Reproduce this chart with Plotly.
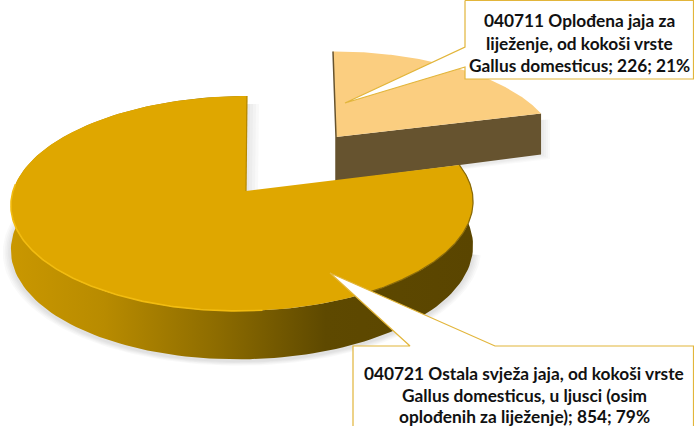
import numpy as np
import plotly.graph_objects as go

categories = ["040711", "040721"]
values = [226, 854]
label_lines = [
    ["040711 Oplođena jaja za", "liježenje, od kokoši vrste", "Gallus domesticus"],
    ["040721 Ostala svježa jaja, od kokoši vrste", "Gallus domesticus, u ljusci (osim", "oplođenih za liježenje)"],
]

TOP_COLOR = ["#FBCE80", "#DFA700"]
SMALL_WALL = "#66532F"
WALL_SCALE = [[0, "#C99700"], [0.2, "#B88B00"], [0.45, "#8C6B00"], [0.68, "#5E4900"], [1, "#5A4500"]]
EDGE = "#E2B53A"
K = 0.116

total = sum(values)
ends = np.cumsum(values) / total * 2 * np.pi
starts = np.concatenate([[0], ends[:-1]])


def arc(t0, t1, cx, cy, rx, ry, skew, drop=0.0, grow=1.0, n=160):
    t = np.linspace(t0, t1, n)
    w = 1 + K * np.cos(t)
    x = cx + grow * rx * np.sin(t) / w + skew * np.cos(t)
    y = cy - grow * ry * np.cos(t) / w + drop * (1 - 0.1 * np.cos(t))
    return x, y


fig = go.Figure()


def poly(x, y, fill, line=None, width=0, **kw):
    fig.add_trace(go.Scatter(x=x, y=y, mode="lines", fill="toself", fillcolor=fill,
                             line=dict(color=line or "rgba(0,0,0,0)", width=width),
                             hoverinfo="skip", showlegend=False, **kw))


BIG = dict(cx=242.5, cy=191, rx=229.5, ry=106, skew=4.5)
SMALL = dict(cx=336, cy=137, rx=219, ry=95.5, skew=-3)
APEX_BIG = (246, 191)
APEX_SMALL = (336, 137)
DROP = 44

# soft shadows
for g in [1.035, 1.027, 1.02, 1.013, 1.006]:
    x, y = arc(np.pi * 0.55, np.pi * 1.6, drop=DROP + 2, grow=g, **BIG)
    poly(x, y, "rgba(90,90,90,0.035)")
for dx in [9, 7, 5, 3]:
    xa, ya = arc(ends[0], ends[0], drop=42, n=1, **SMALL)
    poly([APEX_SMALL[0], xa[0] + dx, xa[0] + dx, APEX_SMALL[0]],
         [APEX_SMALL[1] + 48, ya[0] + dx / 2, ya[0] - 35, APEX_SMALL[1]], "rgba(90,90,90,0.03)")
for dx in [12, 9, 6, 3]:
    xa, ya = arc(0, 0, n=1, **BIG)
    poly([xa[0], xa[0] + dx, APEX_BIG[0] + dx, APEX_BIG[0]],
         [ya[0] + 8, ya[0] + 8, APEX_BIG[1], APEX_BIG[1]], "rgba(90,90,90,0.04)")

# small slice: wall then top face
xa, ya = arc(ends[0], ends[0], n=1, **SMALL)
xd, yd = arc(ends[0], ends[0], drop=42, n=1, **SMALL)
poly([APEX_SMALL[0], xa[0], xd[0], APEX_SMALL[0]],
     [APEX_SMALL[1], ya[0], yd[0], APEX_SMALL[1] + 44], SMALL_WALL)
x, y = arc(starts[0], ends[0], **SMALL)
poly(np.r_[APEX_SMALL[0], x], np.r_[APEX_SMALL[1], y], TOP_COLOR[0])
fig.add_trace(go.Scatter(x=[x[0], APEX_SMALL[0], APEX_SMALL[0]],
                         y=[y[0], APEX_SMALL[1], APEX_SMALL[1] + 44], mode="lines",
                         line=dict(color=SMALL_WALL, width=1.5), hoverinfo="skip", showlegend=False))

# big slice: outer wall with a horizontal gradient, then top face
xt, yt = arc(starts[1], ends[1], **BIG)
xb, yb = arc(starts[1], ends[1], drop=DROP, **BIG)
fig.add_trace(go.Scatter(x=np.r_[xt, xb[::-1]], y=np.r_[yt, yb[::-1]], mode="lines", fill="toself",
                         fillgradient=dict(type="horizontal", colorscale=WALL_SCALE,
                                           start=12, stop=473),
                         line=dict(color="rgba(0,0,0,0)", width=0),
                         hoverinfo="skip", showlegend=False))
poly(np.r_[APEX_BIG[0], xt, APEX_BIG[0]], np.r_[APEX_BIG[1], yt, APEX_BIG[1]], TOP_COLOR[1])
# bevel highlight on the front rim and darker cut edge
xr, yr = arc(np.pi * 0.97, np.pi * 1.52, **BIG)
fig.add_trace(go.Scatter(x=xr, y=yr, mode="lines", line=dict(color="#F2BC10", width=1.6),
                         hoverinfo="skip", showlegend=False))
xr, yr = arc(ends[0], np.pi * 0.85, **BIG)
fig.add_trace(go.Scatter(x=xr, y=yr, mode="lines", line=dict(color="#8A6A08", width=1.2),
                         hoverinfo="skip", showlegend=False))
fig.add_trace(go.Scatter(x=[xt[-1], APEX_BIG[0]], y=[yt[-1], APEX_BIG[1]], mode="lines",
                         line=dict(color="#B48800", width=1.2), hoverinfo="skip", showlegend=False))

# callouts
poly([465, 465, 345, 465, 465, 693.5, 693.5, 465],
     [0.5, 47, 103, 67, 79, 79, 0.5, 0.5], "#FFFFFF", EDGE, 1.2)
poly([353, 353, 410, 330, 495, 693.5, 693.5, 353],
     [440, 346, 346, 273, 346, 346, 440, 440], "#FFFFFF", EDGE, 1.2)

centres = [(579, [20, 43, 65.5]), (524, [373.5, 395, 416])]
pcts = [round(v / total * 100) for v in values]
for i, (xc, ys) in enumerate(centres):
    lines = list(label_lines[i])
    lines[-1] = f"{lines[-1]}; {values[i]}; {pcts[i]}%"
    for text, yc in zip(lines, ys):
        fig.add_annotation(x=xc, y=yc, text=f"<b>{text}</b>", showarrow=False, xanchor="center",
                           yanchor="middle", borderpad=0,
                           font=dict(family="Lato", size=17.3, color="#111111"))

fig.update_layout(width=694, height=426, margin=dict(l=0, r=0, t=0, b=0),
                  paper_bgcolor="white", plot_bgcolor="white", showlegend=False,
                  xaxis=dict(range=[0, 694], visible=False, fixedrange=True),
                  yaxis=dict(range=[426, 0], visible=False, fixedrange=True))
fig.write_html("out.html", config={"displayModeBar": False},
               post_script="document.body.style.margin='0';")
